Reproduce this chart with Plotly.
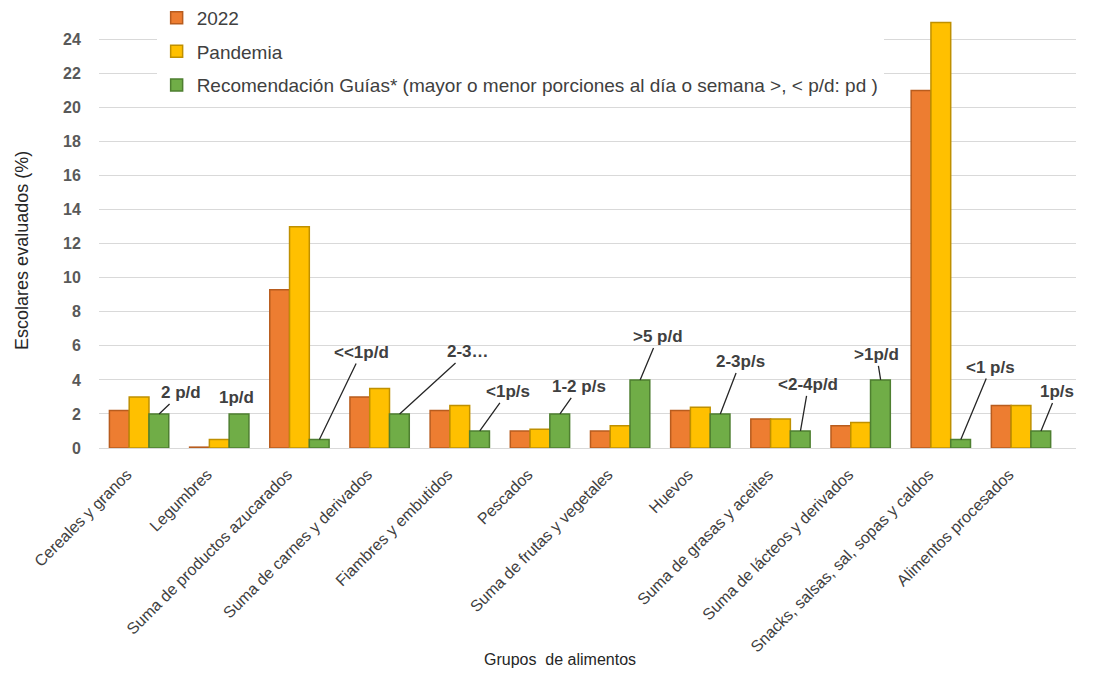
import plotly.graph_objects as go

categories = ["Cereales y granos", "Legumbres", "Suma de productos azucarados",
              "Suma de carnes y derivados", "Fiambres y embutidos", "Pescados",
              "Suma de frutas y vegetales", "Huevos", "Suma de grasas y aceites",
              "Suma de lácteos y derivados", "Snacks, salsas, sal, sopas y caldos",
              "Alimentos procesados"]
v2022 = [2.2, 0.05, 9.3, 3.0, 2.2, 1.0, 1.0, 2.2, 1.7, 1.3, 21.0, 2.5]
pandemia = [3.0, 0.5, 13.0, 3.5, 2.5, 1.1, 1.3, 2.4, 1.7, 1.5, 25.0, 2.5]
guias = [2.0, 2.0, 0.5, 2.0, 1.0, 2.0, 4.0, 2.0, 1.0, 4.0, 0.5, 1.0]
guia_labels = ["2 p/d", "1p/d", "<<1p/d", "2-3…", "<1p/s", "1-2 p/s", ">5 p/d",
               "2-3p/s", "<2-4p/d", ">1p/d", "<1 p/s", "1p/s"]
label_dx = [22, -3, 42, 68, 28, 19, 18, 20, 8, -4, 30, 16]
label_dy = [-21, -16, -87, -62, -39, -27, -43, -52, -46, -25, -72, -39]
series_names = ["2022", "Pandemia",
                "Recomendación Guías* (mayor o menor porciones al día o semana >, < p/d: pd )"]

FONT = "Arial, Liberation Sans, sans-serif"
colors = ["#ED7D31", "#FFC000", "#70AD47"]
edges = ["#B85C1E", "#BF9000", "#4E7F30"]

fig = go.Figure()
for i, (name, vals) in enumerate(zip(series_names, [v2022, pandemia, guias])):
    fig.add_trace(go.Bar(x=categories, y=vals, name=name, legendgroup=str(i),
                         marker=dict(color=colors[i], line=dict(color=edges[i], width=1.5))))

for c, g, t, dx, dy in zip(categories, guias, guia_labels, label_dx, label_dy):
    fig.add_annotation(x=c, y=g, xref="x", yref="y", xshift=20, text="<b>%s</b>" % t,
                       showarrow=True, arrowhead=0, arrowwidth=1.3,
                       arrowcolor="rgba(0,0,0,0)" if t == "1p/d" else "#262626",
                       ax=dx, ay=dy, font=dict(size=17, color="#404040", family=FONT))

fig.add_annotation(text="Grupos  de alimentos", xref="paper", yref="paper", x=0.472, y=-0.488,
                   xanchor="center", yanchor="middle",
                   showarrow=False, font=dict(size=16, color="#262626", family=FONT))
fig.add_annotation(text="Escolares evaluados (%)", xref="paper", yref="paper", x=-0.079, y=0.456,
                   xanchor="center", yanchor="middle",
                   textangle=-90, showarrow=False, font=dict(size=18, color="#262626", family=FONT))

fig.update_layout(
    width=1094, height=675,
    margin=dict(l=99, r=18, t=14, b=227, autoexpand=False),
    plot_bgcolor="white", paper_bgcolor="white",
    barmode="group", bargap=0.26, bargroupgap=0,
    font=dict(family=FONT, color="#595959"),
    legend=dict(x=0.059, y=1.035, xanchor="left", yanchor="top", bgcolor="white",
                font=dict(size=19, color="#404040"), tracegroupgap=6, itemwidth=30),
    showlegend=True,
)
fig.update_xaxes(tickangle=-45, tickfont=dict(size=16, color="#404040"), showgrid=False,
                 showline=True, linecolor="#d9d9d9", ticks="", automargin=False,
                 ticklabelstandoff=10, ticklabelshift=-12)
fig.update_yaxes(range=[0, 25.5], dtick=2, showgrid=True, gridcolor="#d9d9d9", zeroline=False,
                 tickfont=dict(size=16, color="#595959"), tickprefix="<b>", ticksuffix="</b>",
                 ticks="outside", ticklen=14, tickcolor="white", automargin=False)

fig.write_html("out.html")
